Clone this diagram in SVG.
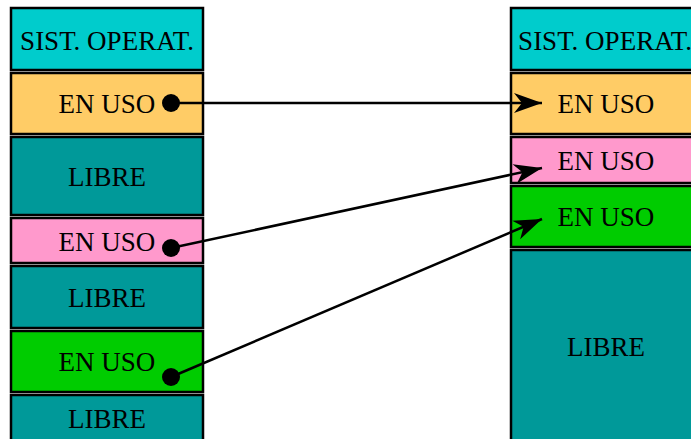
<svg xmlns="http://www.w3.org/2000/svg" width="691" height="439" viewBox="0 0 691 439">
<style>
.b{stroke:#000;stroke-width:2.5}
.t{font-family:"Liberation Serif",serif;font-size:27px;fill:#000;text-anchor:middle}
.c{stroke:#000;stroke-width:2.5;fill:none}
</style>
<defs>
<marker id="ah" markerUnits="userSpaceOnUse" markerWidth="34" markerHeight="24" refX="30" refY="12" orient="auto">
<path d="M30,12 L2,2 L10,12 L2,22 Z" fill="#000"/>
</marker>
</defs>
<rect width="691" height="439" fill="#fff"/>
<g id="left">
<g id="l1"><rect class="b" x="11" y="8" width="192" height="62" fill="#00CCCC"/><text class="t" x="107" y="50">SIST. OPERAT.</text></g>
<g id="l2"><rect class="b" x="11" y="73" width="192" height="61" fill="#FFCC66"/><text class="t" x="107" y="113">EN USO</text></g>
<g id="l3"><rect class="b" x="11" y="137" width="192" height="78" fill="#009999"/><text class="t" x="107" y="186">LIBRE</text></g>
<g id="l4"><rect class="b" x="11" y="218" width="192" height="45" fill="#FF99CC"/><text class="t" x="107" y="251">EN USO</text></g>
<g id="l5"><rect class="b" x="11" y="266" width="192" height="62" fill="#009999"/><text class="t" x="107" y="307">LIBRE</text></g>
<g id="l6"><rect class="b" x="11" y="331" width="192" height="61" fill="#00CC00"/><text class="t" x="107" y="371">EN USO</text></g>
<g id="l7"><rect class="b" x="11" y="395" width="192" height="60" fill="#009999"/><text class="t" x="107" y="428">LIBRE</text></g>
</g>
<g id="right">
<g id="r1"><rect class="b" x="511" y="8" width="200" height="62" fill="#00CCCC"/><text class="t" x="605" y="50">SIST. OPERAT.</text></g>
<g id="r2"><rect class="b" x="511" y="73" width="200" height="61" fill="#FFCC66"/><text class="t" x="606" y="113">EN USO</text></g>
<g id="r3"><rect class="b" x="511" y="137" width="200" height="46" fill="#FF99CC"/><text class="t" x="606" y="170">EN USO</text></g>
<g id="r4"><rect class="b" x="511" y="186" width="200" height="61" fill="#00CC00"/><text class="t" x="606" y="226">EN USO</text></g>
<g id="r5"><rect class="b" x="511" y="250" width="200" height="200" fill="#009999"/><text class="t" x="606" y="356">LIBRE</text></g>
</g>
<g id="connectors">
<circle cx="171" cy="103" r="9" fill="#000"/>
<circle cx="171" cy="248" r="9" fill="#000"/>
<circle cx="171" cy="377" r="9" fill="#000"/>
<line class="c" x1="171" y1="103" x2="542" y2="103" marker-end="url(#ah)"/>
<line class="c" x1="171" y1="248" x2="542" y2="168" marker-end="url(#ah)"/>
<line class="c" x1="171" y1="377" x2="542" y2="219" marker-end="url(#ah)"/>
</g>
</svg>
